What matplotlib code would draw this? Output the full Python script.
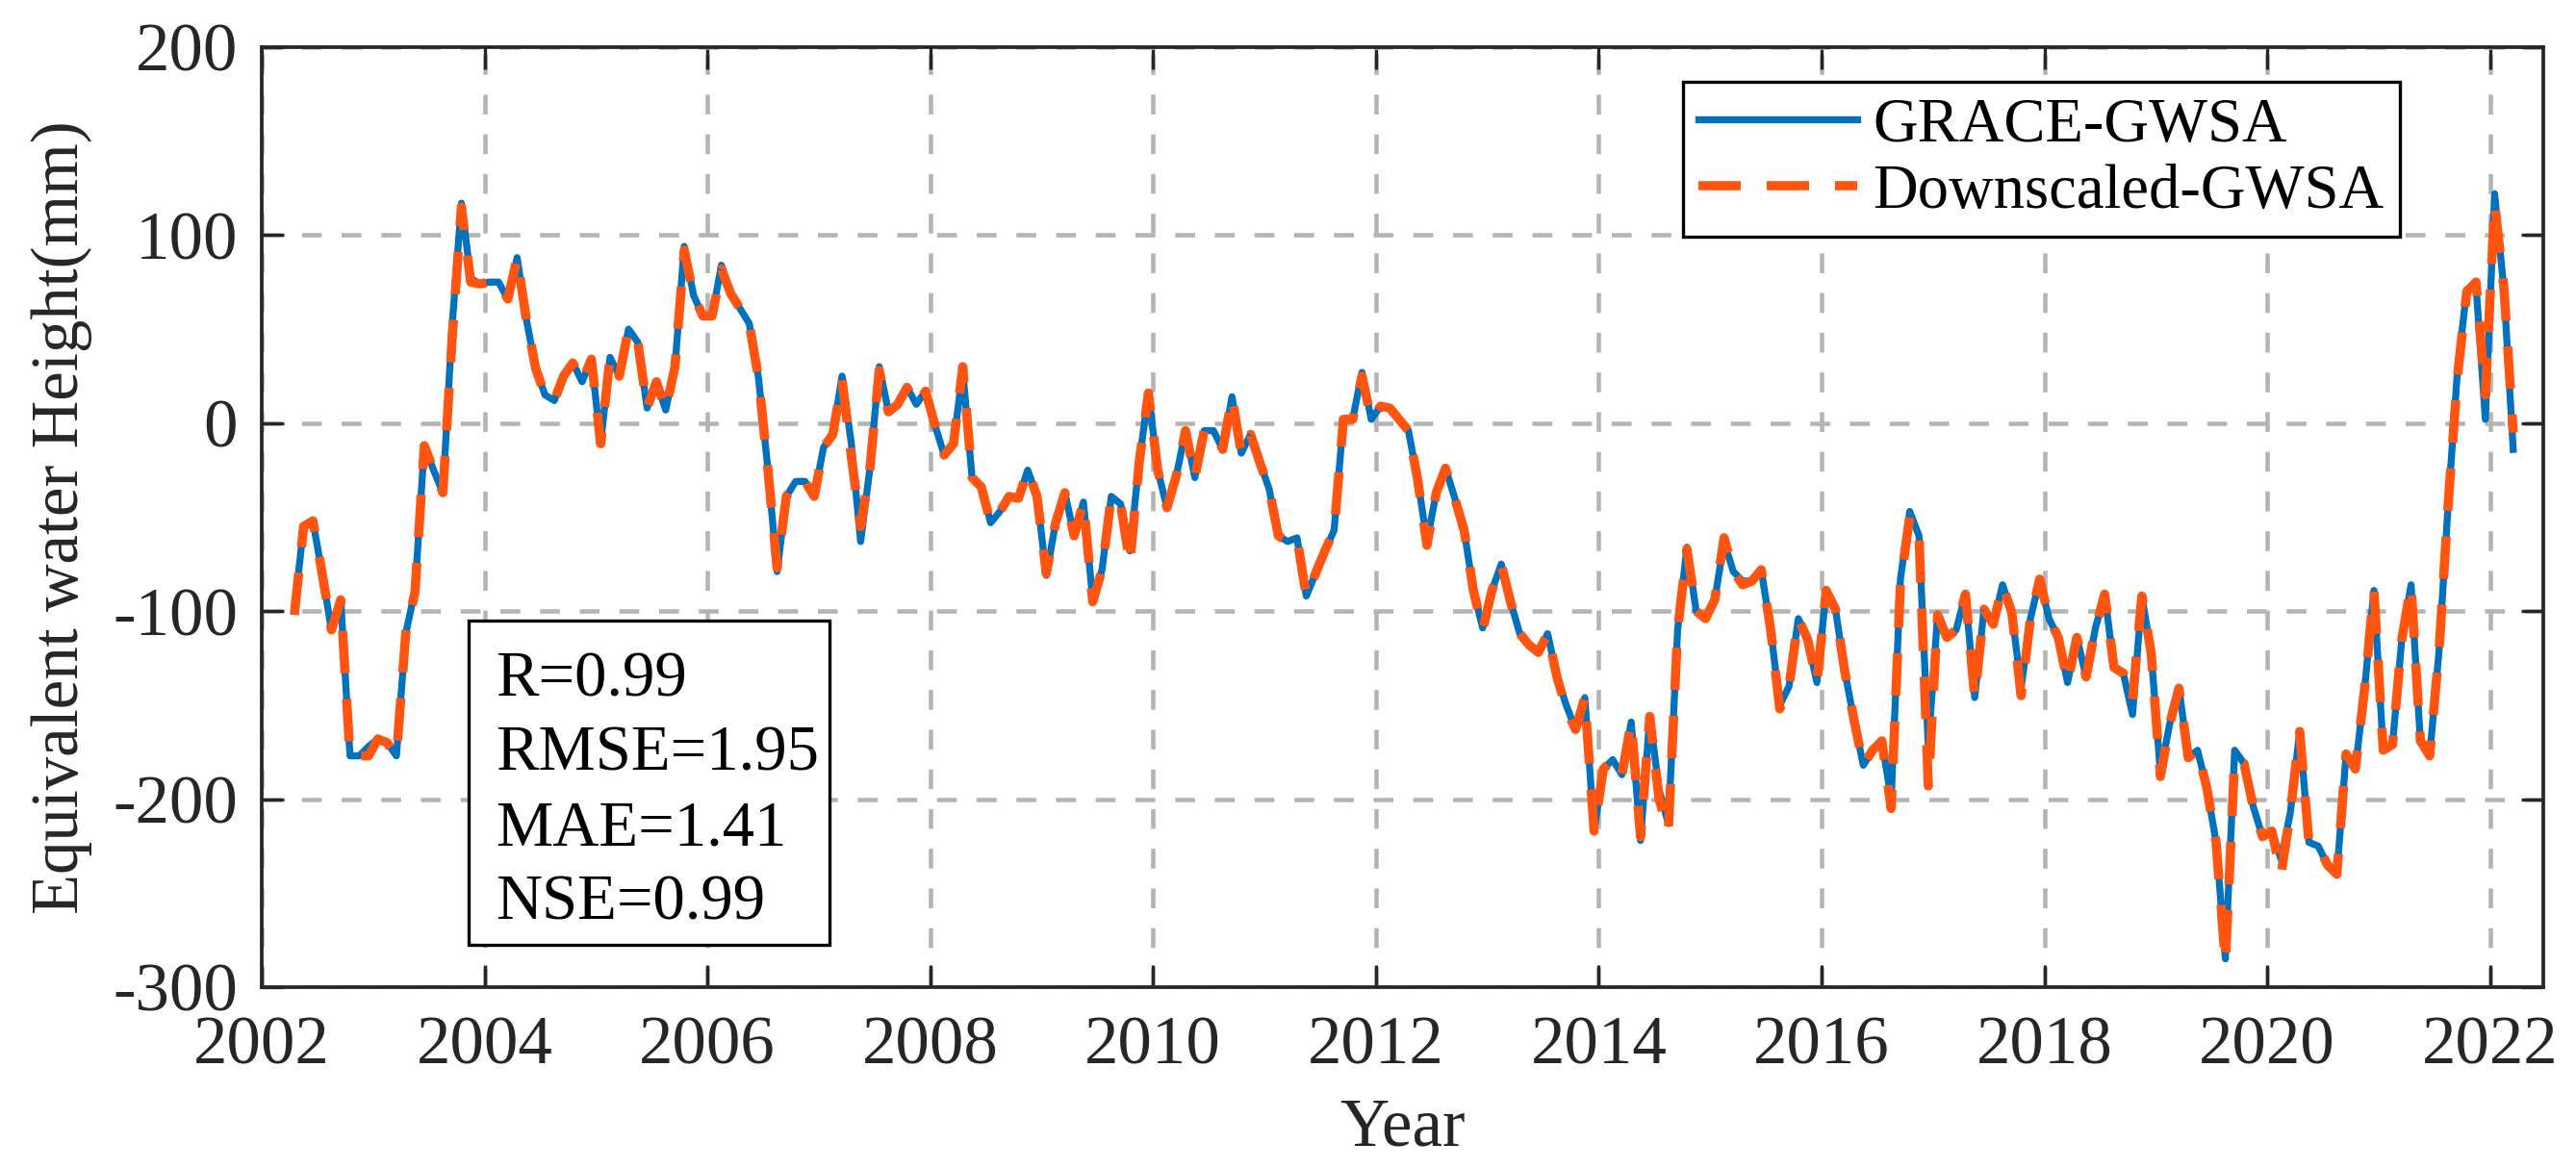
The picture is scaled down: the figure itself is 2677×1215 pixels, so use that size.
import numpy as np
import matplotlib
matplotlib.use('Agg')
import matplotlib.pyplot as plt
from matplotlib.patches import Rectangle


# Monthly series, first value = April 2002
start_year = 2002
start_month = 4

grace = [
    -100, -55, -52, -80, -110, -94, -177, -177, -172, -168,
    -170, -177, -112, -89, -12, -25, -37, 52, 117, 77,
    74, 75, 75, 66, 88, 55, 29, 15, 12, 25,
    32, 22, 34, -11, 35, 25, 50, 43, 8, 22,
    7, 30, 94, 68, 57, 57,
    84, 69, 61, 53, 24, -24, -79, -39, -31, -31,
    -39, -13, -6, 25, -11, -63, -24, 30, 6, 10,
    19, 10, 17, -1, -17, -11, 28, -29, -34, -53,
    -47, -39, -40, -25, -39, -81, -53, -37, -60, -42,
    -94, -78, -39, -43, -68, -21, 16,
    -25, -45, -28, -4, -29, -4, -4, -14, 14, -16,
    -6, -21, -35, -60, -63, -61, -92, -80, -68, -57,
    2, 2, 27, 2, 9, 8, 2, -4, -30, -63,
    -37, -24, -40, -57, -89, -109, -89, -75, -95, -112,
    -118, -122, -112, -135, -150, -163, -146, -217,
    -184, -179, -187, -159, -222, -156, -195, -213, -110, -66,
    -100, -104, -94, -63, -79, -84, -84, -78, -109, -150,
    -140, -104, -115, -138, -89, -99, -132, -158, -182, -174,
    -169, -200, -83, -47, -60, -172, -102, -114, -110, -91,
    -146, -99, -107, -86, -101, -141, -104, -83,
    -104, -114, -138, -114, -135, -109, -91, -130, -133, -155,
    -92, -122, -186, -160, -141, -178, -174, -194, -223, -285,
    -174, -181, -204, -220, -217, -232, -207, -164, -223, -225,
    -235, -240, -176, -184, -141, -89, -174, -171, -115, -86,
    -169, -177, -122, -43, 28, 71, 73, 2, 122, 71,
    -14,
]

downscaled = [
    -102, -55, -52, -80, -110, -94, -177, -177, -177, -168,
    -170, -177, -112, -90, -12, -25, -37, 45, 115, 75,
    74, 75, 75, 66, 88, 55, 29, 15, 12, 25,
    32, 22, 34, -11, 35, 25, 50, 43, 8, 22,
    7, 30, 92, 68, 57, 57,
    82, 69, 61, 53, 24, -24, -77, -39, -31, -31,
    -39, -13, -6, 23, -18, -55, -24, 28, 6, 10,
    19, 10, 17, -1, -17, -11, 30, -29, -34, -53,
    -47, -39, -40, -25, -39, -80, -53, -37, -60, -42,
    -95, -78, -39, -43, -75, -21, 16,
    -25, -45, -28, -4, -29, -4, -4, -14, 14, -16,
    -6, -21, -35, -60, -63, -61, -92, -80, -68, -57,
    2, 2, 25, 2, 9, 8, 2, -4, -30, -65,
    -37, -24, -40, -57, -89, -110, -89, -75, -95, -112,
    -118, -122, -112, -135, -152, -163, -146, -217,
    -184, -179, -187, -159, -220, -156, -200, -217, -110, -67,
    -100, -104, -94, -61, -79, -86, -84, -78, -109, -152,
    -140, -104, -115, -138, -89, -99, -132, -158, -182, -174,
    -169, -205, -85, -50, -60, -193, -102, -114, -110, -91,
    -146, -99, -107, -86, -101, -145, -104, -83,
    -104, -114, -138, -114, -135, -109, -91, -130, -133, -147,
    -92, -122, -188, -160, -141, -178, -174, -194, -223, -287,
    -178, -181, -204, -220, -217, -240, -207, -164, -223, -225,
    -235, -240, -176, -184, -141, -89, -174, -171, -115, -86,
    -169, -177, -122, -43, 25, 70, 75, 15, 117, 72,
    -5,
]

stats_text = ['R=0.99', 'RMSE=1.95', 'MAE=1.41', 'NSE=0.99']

x_ticks = list(range(2002, 2023, 2))
y_ticks = [-300, -200, -100, 0, 100, 200]

months = np.arange(len(grace))
t = start_year + (start_month - 1 + 0.5 + months) / 12.0

plt.rcParams['font.family'] = ['Liberation Serif', 'DejaVu Serif']
plt.rcParams['axes.unicode_minus'] = False

fig = plt.figure(figsize=(2678 / 300, 1215 / 300), dpi=300)
ax = fig.add_axes([0.1016, 0.1556, 0.8854, 0.8041])

# grid first so it stays behind the lines
ax.set_axisbelow(True)
ax.grid(True, color='#b4b4b4', linestyle=(0, (4.5, 4.5)), linewidth=1.1)

ax.plot(t, grace, color='#0072BD', linewidth=1.75, label='GRACE-GWSA', zorder=3)
ax.plot(t, downscaled, color='#FF5511', linewidth=2.3, linestyle=(0, (4.6, 2.8)),
        label='Downscaled-GWSA', zorder=4)

ax.set_xlim(2002, 2022.48)
ax.set_ylim(-300, 200)
ax.set_xticks(x_ticks)
ax.set_yticks(y_ticks)
ax.tick_params(direction='in', top=True, right=True, length=5.6, width=0.8,
               labelsize=17, colors='#262626')
ax.tick_params(axis='x', pad=7)
ax.tick_params(axis='y', pad=6)
for sp in ax.spines.values():
    sp.set_linewidth(0.9)
    sp.set_color('#262626')

ax.set_xlabel('Year', fontsize=17, labelpad=5, color='#262626')
ax.set_ylabel('Equivalent water Height(mm)', fontsize=16.5, labelpad=5, color='#262626')

leg = ax.legend(loc='upper left', bbox_to_anchor=(0.623, 0.963), borderaxespad=0,
                fancybox=False, edgecolor='black', framealpha=1, fontsize=15.5,
                handlelength=2.55, handletextpad=0.25, borderpad=0.25, labelspacing=0.15)
leg.get_frame().set_linewidth(0.8)

# statistics box
ax.add_patch(Rectangle((0.0907, 0.045), 0.158, 0.345, transform=ax.transAxes,
                       facecolor='white', edgecolor='black', linewidth=0.8, zorder=6))
for k, line in enumerate(stats_text):
    ax.text(0.1025, 0.310 - k * 0.0793, line, transform=ax.transAxes, va='baseline',
            ha='left', fontsize=16, zorder=7)

fig.savefig('out.png', dpi=300)
